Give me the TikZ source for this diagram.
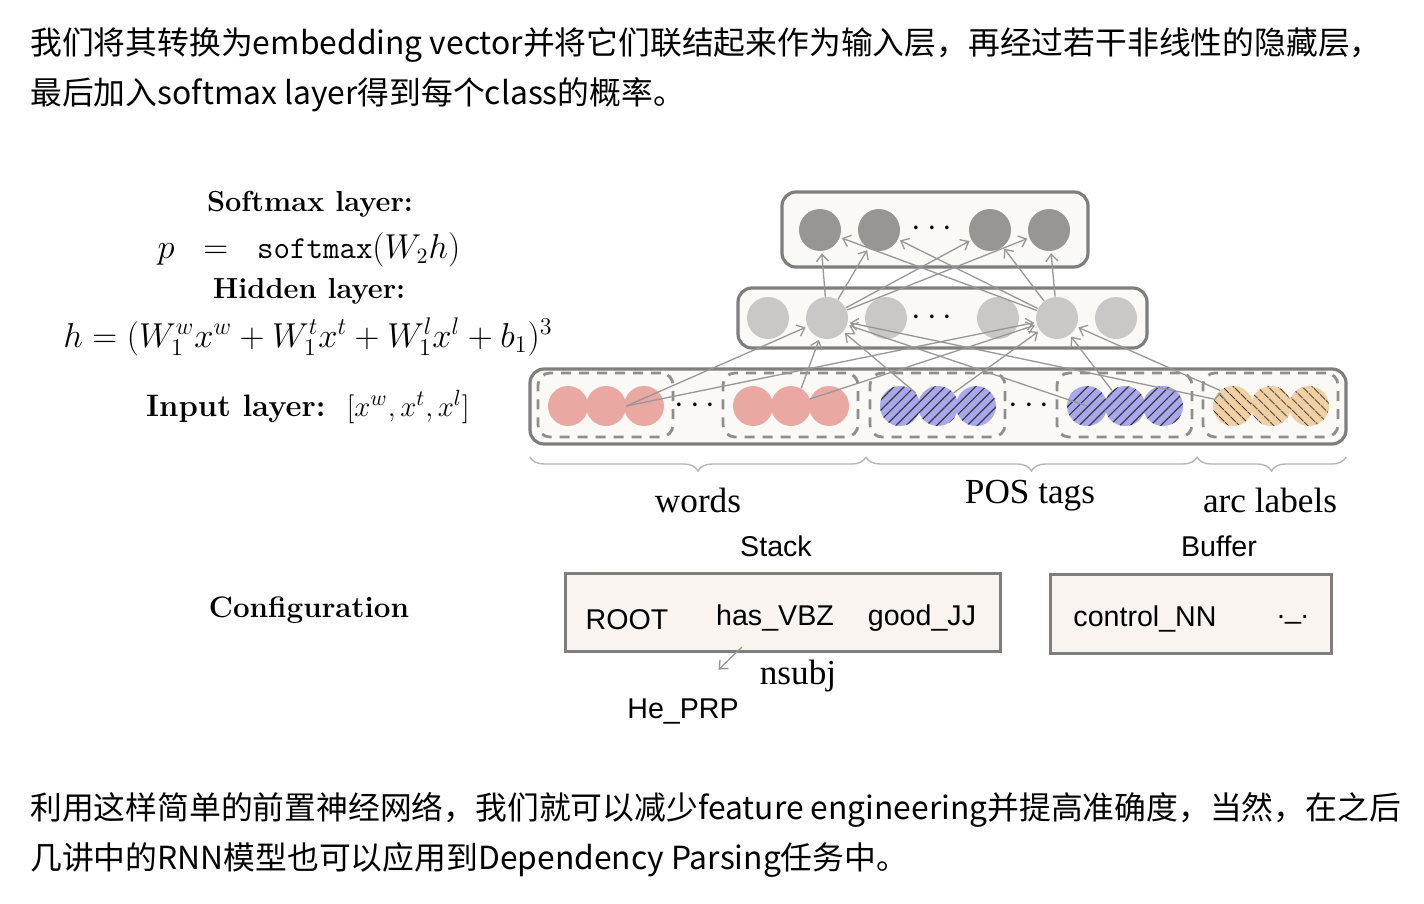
\documentclass[tikz,border=0pt]{standalone}
\usepackage{amsmath}
\usepackage{fontspec}
\newfontfamily\cjkfont{Noto Sans CJK SC}
\newfontfamily\figsans{Liberation Sans}
\newfontfamily\figserif{Liberation Serif}
\usepackage{tikz}
\usetikzlibrary{
        arrows.meta,
        decorations.pathreplacing,
        patterns.meta,
        positioning
    }
\definecolor{outgray}{HTML}{979694}
\definecolor{hidgray}{HTML}{C9C8C6}
\definecolor{wordpink}{HTML}{EAA8A3}
\definecolor{tagblue}{HTML}{A9A7EE}
\definecolor{labtan}{HTML}{F2D0A4}
\definecolor{hatchgray}{HTML}{3A3A3A}
\definecolor{boxfill}{HTML}{FBF9F5}
\definecolor{boxline}{HTML}{7E7E7E}
\definecolor{dashgray}{HTML}{8E8E8E}
\definecolor{conngray}{HTML}{979797}
\definecolor{bracegray}{HTML}{B5B5B5}
\definecolor{conffill}{HTML}{F9F4EF}
\tikzset{>={Straight Barb[length=3.5pt,width=6pt]},auto,node distance=29.5pt}
\tikzset{
    unit/.style={circle,inner sep=0pt,minimum size=21pt},
    outunit/.style={unit,fill=outgray},
    hidunit/.style={unit,fill=hidgray},
    inunit/.style={circle,inner sep=0pt,minimum size=20pt},
    wordunit/.style={inunit,fill=wordpink},
    tagunit/.style={inunit,fill=tagblue,
        postaction={pattern={Lines[angle=45,distance=3.6pt,line width=0.6pt]},pattern color=hatchgray}},
    labunit/.style={inunit,fill=labtan,
        postaction={pattern={Lines[angle=-45,distance=4pt,line width=0.6pt]},pattern color=hatchgray}},
    layerbox/.style={draw=boxline,fill=boxfill,line width=1.6pt,rounded corners=7pt},
    groupbox/.style={draw=dashgray,line width=1.4pt,dash pattern=on 5pt off 4pt,
        rounded corners=6pt,minimum width=67.5pt,minimum height=32pt,inner sep=0pt},
    conn/.style={->,draw=conngray,line width=0.65pt,shorten >=1pt},
    confbox/.style={draw=boxline,fill=conffill,line width=1.5pt},
    cjktext/.style={anchor=west,inner sep=0pt,font=\cjkfont\fontsize{15.9}{18}\selectfont},
    formula/.style={inner sep=0pt,font=\fontsize{14.5}{17}\selectfont},
    sanslbl/.style={inner sep=0pt,font=\figsans\fontsize{14.3}{17}\selectfont},
    seriflbl/.style={inner sep=0pt,font=\figserif\fontsize{17.6}{20}\selectfont},
    dots/.style={inner sep=0pt,font=\fontsize{17}{19}\selectfont}
}

\begin{document}
\begin{tikzpicture}[x=0.5pt,y=-0.5pt]
        \fill[white] (0,0) rectangle (1424,904);
        \useasboundingbox (0,0) rectangle (1424,904);
        % text around the figure
        \node[cjktext] (intro1) at (30,45) {我们将其转换为embedding vector并将它们联结起来作为输入层，再经过若干非线性的隐藏层，};
        \node[cjktext] (intro2) at (30,95) {最后加入softmax layer得到每个class的概率。};
        \node[cjktext] (outro1) at (30,810) {利用这样简单的前置神经网络，我们就可以减少feature engineering并提高准确度，当然，在之后};
        \node[cjktext] (outro2) at (30,860) {几讲中的RNN模型也可以应用到Dependency Parsing任务中。};
        % formulas
        \node[formula] (smlabel) at (310,204) {\bfseries Softmax layer:};
        \node[formula,font=\fontsize{16}{18}\selectfont] (smeq) at (309,250) {$p\;\;=\;\;\texttt{softmax}(W_2h)$};
        \node[formula] (hdlabel) at (309,291) {\bfseries Hidden layer:};
        \node[formula,font=\fontsize{17}{19}\selectfont] (hdeq) at (308,337) {$h=(W_1^wx^w+W_1^tx^t+W_1^lx^l+b_1)^3$};
        \node[formula,font=\fontsize{15.5}{18}\selectfont] (inlabel) at (308,407) {\textbf{Input layer:}\; $[x^w,x^t,x^l]$};
        \node[formula,font=\fontsize{14.8}{17}\selectfont] (conflabel) at (309,610) {\bfseries Configuration};
        % layer boxes
        \draw[layerbox] (782,192) rectangle (1088,267);
        \draw[layerbox] (738,288) rectangle (1147,348);
        \draw[layerbox] (530,369) rectangle (1346,444);
        % softmax layer
        \node[outunit] (o1) at (820,230) {};
        \node[outunit] (o2) [right of=o1] {};
        \node[outunit] (o3) at (990,230) {};
        \node[outunit] (o4) [right of=o3] {};
        \node[dots] (odots) at (935,229) {$\cdots$};
        % hidden layer
        \node[hidunit] (h1) at (768,318) {};
        \node[hidunit] (h2) [right of=h1] {};
        \node[hidunit] (h3) [right of=h2] {};
        \node[hidunit] (h4) at (998,318) {};
        \node[hidunit] (h5) [right of=h4] {};
        \node[hidunit] (h6) [right of=h5] {};
        \node[dots] (hdots) at (935,318) {$\cdots$};
        % input layer
        \foreach \g/\x/\kind in {1/538/wordunit,2/723/wordunit,3/870/tagunit,4/1057/tagunit,5/1203/labunit} {
            \node[groupbox] (grp\g) at (\x+67.5,405) {};
            \foreach \k/\dx in {1/30,2/68,3/106}
                \node[\kind] (in\g-\k) at (\x+\dx,406) {};
        }
        \node[dots] (wdots) at (698,406) {$\cdots$};
        \node[dots] (tdots) at (1032,406) {$\cdots$};
        % connections
        \path[conn]
            (in1-2.east)  edge (h2)
            (in2-2.60)    edge (h2)
            (in3-1.40)    edge (h2)
            (in4-1.center) edge (h2)
            (in5-1.160)   edge (h2)
            (in1-2.east)  edge (h5)
            (in2-3.160)   edge (h5)
            (in3-2.40)    edge (h5)
            (in4-2.130)   edge (h5)
            (in5-1.130)   edge (h5)
        ;
        \path[conn]
            (h2) edge (o1) (h2) edge (o2) (h2) edge (o3) (h2) edge (o4)
            (h5) edge (o1) (h5) edge (o2) (h5) edge (o3) (h5) edge (o4)
        ;
        % braces
        \coordinate (br0) at (530,457);
        \coordinate (br1) at (866,457);
        \coordinate (br2) at (1197,457);
        \coordinate (br3) at (1346,457);
        \draw[bracegray,line width=0.7pt,decorate,decoration={brace,mirror,amplitude=7pt}] (br0) -- (br1);
        \draw[bracegray,line width=0.7pt,decorate,decoration={brace,mirror,amplitude=7pt}] (br1) -- (br2);
        \draw[bracegray,line width=0.7pt,decorate,decoration={brace,mirror,amplitude=7pt}] (br2) -- (br3);
        \node[seriflbl] (words) at (698,500) {words};
        \node[seriflbl] (postags) at (1030,496) {POS tags};
        \node[seriflbl] (arclabels) at (1270,500) {arc labels};
        % configuration
        \node[sanslbl] (stack) at (776,546) {Stack};
        \node[sanslbl] (buffer) at (1219,546) {Buffer};
        \draw[confbox] (565,573) rectangle (1000,651);
        \draw[confbox] (1050,574) rectangle (1331,653);
        \node[sanslbl] (root) at (627,620) {ROOT};
        \node[sanslbl] (hasvbz) at (775,618) {has\_VBZ};
        \node[sanslbl] (goodjj) at (922,618) {good\_JJ};
        \node[sanslbl] (controlnn) at (1145,619) {control\_NN};
        \node[sanslbl] (punct) at (1293,620) {.\_.};
        \node[sanslbl] (heprp) at (683,711) {He\_PRP};
        \node[seriflbl] (nsubj) at (798,676) {nsubj};
        \coordinate (arctail) at (742,647);
        \coordinate (archead) at (717,671);
        \draw[conn] (arctail) -- (archead);
    \end{tikzpicture}
\end{document}
